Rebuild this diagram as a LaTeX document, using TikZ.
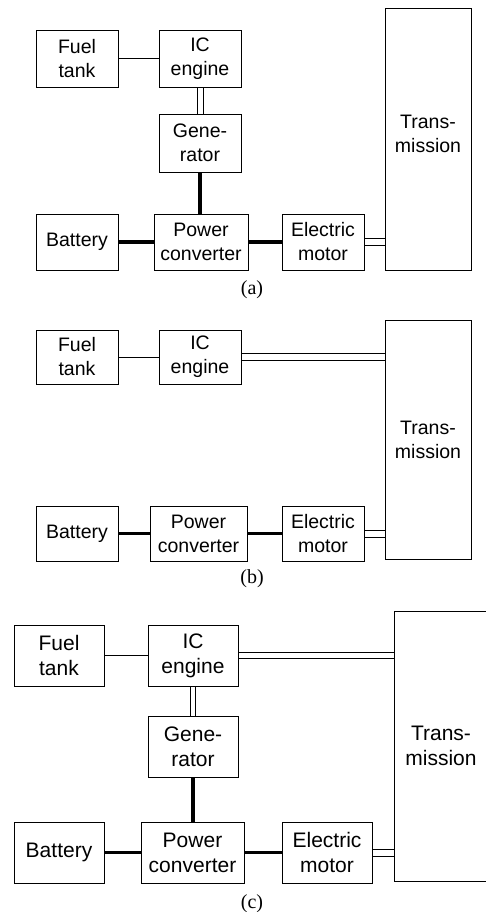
\documentclass[tikz,border=0pt]{standalone}
\usepackage{fontspec}
\setmainfont{Liberation Sans}
\newfontfamily\capfont{Liberation Serif}
\begin{document}
\begin{tikzpicture}[x=1pt, y=-1pt,
    box/.style={draw, line width=0.9pt, align=center, inner sep=0pt, font=\fontsize{19.5}{24}\selectfont},
    boxc/.style={box, font=\fontsize{21}{25}\selectfont},
    fuelline/.style={line width=0.9pt},
    elecline/.style={line width=3.8pt},
    shaftline/.style={line width=0.9pt},
    figlabel/.style={anchor=base, font=\capfont\fontsize{20}{24}\selectfont}]
    \useasboundingbox (0,0) rectangle (485,912);

    % Nodes (a)
    \node[box, minimum width=82pt, minimum height=57pt] (FTa) at (77,58.5) {Fuel\\tank};
    \node[box, minimum width=82pt, minimum height=57pt] (ICa) at (200,58.5) {IC\\engine};
    \node[box, minimum width=82pt, minimum height=58pt] (GENa) at (200,143) {Gene-\\rator};
    \node[box, minimum width=82pt, minimum height=56pt] (BATa) at (77,242) {Battery};
    \node[box, minimum width=94pt, minimum height=56pt] (PCa) at (201,242) {Power\\converter};
    \node[box, minimum width=82pt, minimum height=56pt] (EMa) at (323,242) {Electric\\motor};
    \node[box, minimum width=86pt, minimum height=262pt, text depth=11pt] (TRa) at (428,139) {Trans-\\mission};
    \node[figlabel] (CAPa) at (252,294) {(a)};

    % Lines (a)
    \draw[fuelline] (FTa) -- (ICa);
    \draw[shaftline] ([xshift=-3pt]ICa.south) -- ([xshift=-3pt]GENa.north);
    \draw[shaftline] ([xshift=3pt]ICa.south) -- ([xshift=3pt]GENa.north);
    \draw[elecline] (GENa.south) -- (GENa.south |- PCa.north);
    \draw[elecline] (BATa) -- (PCa);
    \draw[elecline] (PCa) -- (EMa);
    \draw[shaftline] ([yshift=3.5pt]EMa.east) -- ([yshift=3.5pt]EMa.east -| TRa.west);
    \draw[shaftline] ([yshift=-3.5pt]EMa.east) -- ([yshift=-3.5pt]EMa.east -| TRa.west);

    % Nodes (b)
    \node[box, minimum width=82pt, minimum height=54pt] (FTb) at (77,357) {Fuel\\tank};
    \node[box, minimum width=82pt, minimum height=54pt] (ICb) at (200,357) {IC\\engine};
    \node[box, minimum width=82pt, minimum height=55pt] (BATb) at (77,533.5) {Battery};
    \node[box, minimum width=97pt, minimum height=55pt] (PCb) at (198.5,533.5) {Power\\converter};
    \node[box, minimum width=82pt, minimum height=55pt] (EMb) at (323,533.5) {Electric\\motor};
    \node[box, minimum width=86pt, minimum height=239pt] (TRb) at (428,439.5) {Trans-\\mission};
    \node[figlabel] (CAPb) at (252,583.5) {(b)};

    % Lines (b)
    \draw[fuelline] (FTb) -- (ICb);
    \draw[shaftline] ([yshift=3.5pt]ICb.east) -- ([yshift=3.5pt]ICb.east -| TRb.west);
    \draw[shaftline] ([yshift=-3.5pt]ICb.east) -- ([yshift=-3.5pt]ICb.east -| TRb.west);
    \draw[elecline] (BATb) -- (PCb);
    \draw[elecline] (PCb) -- (EMb);
    \draw[shaftline] ([yshift=3.5pt]EMb.east) -- ([yshift=3.5pt]EMb.east -| TRb.west);
    \draw[shaftline] ([yshift=-3.5pt]EMb.east) -- ([yshift=-3.5pt]EMb.east -| TRb.west);

    % Nodes (c)
    \node[boxc, minimum width=90pt, minimum height=61pt] (FTc) at (59,655.5) {Fuel\\tank};
    \node[boxc, minimum width=90pt, minimum height=61pt] (ICc) at (193,655.5) {IC\\engine};
    \node[boxc, minimum width=90pt, minimum height=61pt] (GENc) at (193,746.5) {Gene-\\rator};
    \node[boxc, minimum width=90pt, minimum height=61pt] (BATc) at (59,852.5) {Battery};
    \node[boxc, minimum width=103pt, minimum height=61pt] (PCc) at (192.5,852.5) {Power\\converter};
    \node[boxc, minimum width=90pt, minimum height=61pt] (EMc) at (327,852.5) {Electric\\motor};
    \node[boxc, minimum width=94pt, minimum height=270pt] (TRc) at (441,746) {Trans-\\mission};
    \node[figlabel] (CAPc) at (252,908) {(c)};

    % Lines (c)
    \draw[fuelline] (FTc) -- (ICc);
    \draw[shaftline] ([xshift=-2.5pt]ICc.south) -- ([xshift=-2.5pt]GENc.north);
    \draw[shaftline] ([xshift=2.5pt]ICc.south) -- ([xshift=2.5pt]GENc.north);
    \draw[shaftline] ([yshift=3pt]ICc.east) -- ([yshift=3pt]ICc.east -| TRc.west);
    \draw[shaftline] ([yshift=-3pt]ICc.east) -- ([yshift=-3pt]ICc.east -| TRc.west);
    \draw[elecline] (GENc.south) -- (GENc.south |- PCc.north);
    \draw[elecline] (BATc) -- (PCc);
    \draw[elecline] (PCc) -- (EMc);
    \draw[shaftline] ([yshift=3.5pt]EMc.east) -- ([yshift=3.5pt]EMc.east -| TRc.west);
    \draw[shaftline] ([yshift=-3.5pt]EMc.east) -- ([yshift=-3.5pt]EMc.east -| TRc.west);
\end{tikzpicture}
\end{document}
